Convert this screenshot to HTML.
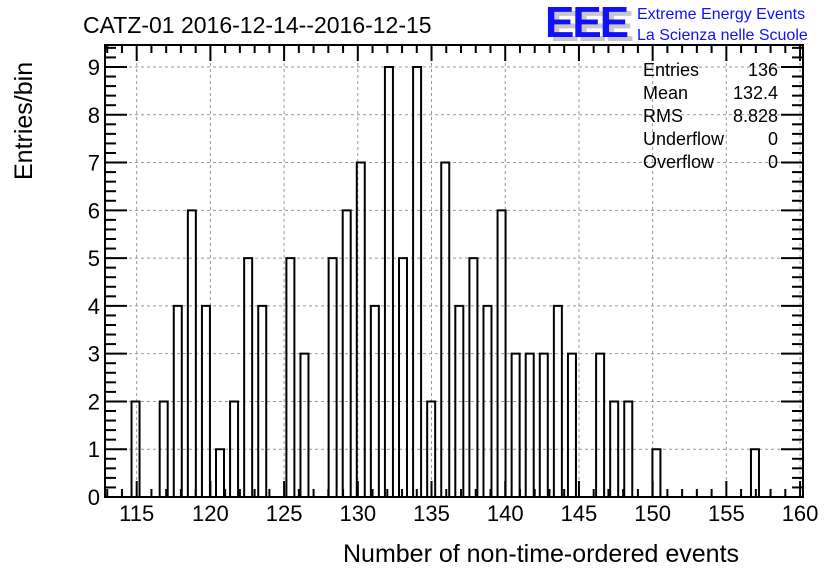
<!DOCTYPE html>
<html><head><meta charset="utf-8"><style>
body{margin:0;background:#fff;width:836px;height:572px;overflow:hidden;font-family:"Liberation Sans",sans-serif}
svg text{font-family:"Liberation Sans",sans-serif}
</style></head><body>
<svg id="c" width="836" height="572">
<text x="83" y="33" font-size="23">CATZ-01 2016-12-14--2016-12-15</text>
<g>
<text x="550" y="41" font-size="44" font-weight="bold" fill="#c8c8c8" letter-spacing="-2">EEE</text>
<text x="545" y="37" font-size="44" font-weight="bold" fill="#1010ff" letter-spacing="-2">EEE</text>
<text x="637" y="19" font-size="16" fill="#1010ff">Extreme Energy Events</text>
<text x="637" y="40" font-size="16" fill="#1010ff">La Scienza nelle Scuole</text>
</g>
<text x="343" y="562" font-size="25">Number of non-time-ordered events</text>
<text transform="translate(32,180) rotate(-90)" font-size="25">Entries/bin</text>
<g id="grid"></g><g id="bars"></g><g id="axes"></g>
<g font-size="18">
<text x="643" y="76">Entries</text><text x="778" y="76" text-anchor="end">136</text>
<text x="643" y="99">Mean</text><text x="778" y="99" text-anchor="end">132.4</text>
<text x="643" y="122">RMS</text><text x="778" y="122" text-anchor="end">8.828</text>
<text x="643" y="145">Underflow</text><text x="778" y="145" text-anchor="end">0</text>
<text x="643" y="168">Overflow</text><text x="778" y="168" text-anchor="end">0</text>
</g>
</svg>
<script>
const bins=[115,117,118,119,120,121,122,123,124,126,127,129,130,131,132,133,134,135,136,137,138,139,140,141,142,143,144,145,146,148,149,150,152,159];
const counts=[2,2,4,6,4,1,2,5,4,5,3,5,6,7,4,9,5,9,2,7,4,5,4,6,3,3,3,4,3,3,2,2,1,1];
const xTicks=[115,120,125,130,135,140,145,150,155,160];
const yTicks=[0,1,2,3,4,5,6,7,8,9];
const L=105,R=803,T=45,B=497;
const xMin=112.85,xMax=160.2,yMin=0,yMax=9.46;
const X=v=>L+(v-xMin)/(xMax-xMin)*(R-L);
const Y=v=>B-(v-yMin)/(yMax-yMin)*(B-T);
const NS="http://www.w3.org/2000/svg";
function mk(p,tag,a){const e=document.createElementNS(NS,tag);for(const k in a)e.setAttribute(k,a[k]);document.getElementById(p).appendChild(e);return e;}
// bins are slightly narrower than 1 unit; map bin index to its position
const binW=0.955;
xTicks.forEach(t=>{const e=mk('grid','line',{x1:X(t),x2:X(t),y1:T,y2:B,stroke:'#999','stroke-dasharray':'3,3'});

});
yTicks.forEach(t=>{const e=mk('grid','line',{x1:L,x2:R,y1:Y(t),y2:Y(t),stroke:'#999','stroke-dasharray':'3,3'});

});
bins.forEach((b,i)=>{const c=115-0.35+(b-115)*binW;const x0=X(c);
const e=mk('bars','path',{d:`M${x0},${B} V${Y(counts[i])} H${x0+8} V${B}`,fill:'none',stroke:'#000','stroke-width':2});

});
const fr=mk('axes','rect',{x:L,y:T,width:R-L,height:B-T,fill:'none',stroke:'#000','stroke-width':2});


for(let v=113;v<=160;v++){const maj=v%5==0;const x=X(v);
mk('axes','line',{x1:x,x2:x,y1:B,y2:B-(maj?16:8),stroke:'#000','stroke-width':2});
mk('axes','line',{x1:x,x2:x,y1:T,y2:T+(maj?16:8),stroke:'#000','stroke-width':2});}
xTicks.forEach(t=>{const e=mk('axes','text',{x:X(t),y:521,'font-size':22,'text-anchor':'middle'});e.textContent=t;

});
for(let v=0;v<=9.4;v+=0.2){const maj=Math.abs(v-Math.round(v))<1e-6;const y=Y(v);
mk('axes','line',{x1:L,x2:L+(maj?22:11),y1:y,y2:y,stroke:'#000','stroke-width':2});
mk('axes','line',{x1:R,x2:R-(maj?22:11),y1:y,y2:y,stroke:'#000','stroke-width':2});}
yTicks.forEach(t=>{const e=mk('axes','text',{x:100,y:Y(t)+8,'font-size':22,'text-anchor':'end'});e.textContent=t;

});
</script>
</body></html>
